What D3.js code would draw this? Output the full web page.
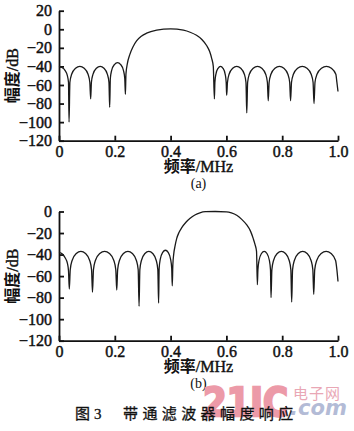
<!DOCTYPE html>
<html>
<head>
<meta charset="utf-8">
<script src="https://cdn.jsdelivr.net/npm/d3@7"></script>
<style>
body { margin: 0; background: #fff; }
</style>
</head>
<body>
<div id="grafico"></div>
<script>
//Ticks dos eixos
const xTicks = [0, 0.2, 0.4, 0.6, 0.8, 1.0];
const xTickLabels = ["0", "0.2", "0.4", "0.6", "0.8", "1.0"];
const yTicksA = [20, 0, -20, -40, -60, -80, -100, -120];
const yTicksB = [0, -20, -40, -60, -80, -100, -120];

//Resposta (a): frequencia em MHz e amplitude em dB
const freqA = [
  0, 0.012, 0.022, 0.030, 0.034, 0.036,
  0.0391, 0.0453, 0.0593, 0.0748, 0.0903, 0.1042, 0.1104, 0.1135,
  0.1162, 0.1217, 0.134, 0.1476, 0.1612, 0.1735, 0.179, 0.1817,
  0.184, 0.1885, 0.1986, 0.2099, 0.2211, 0.2312, 0.2357, 0.238,
  0.240, 0.245, 0.254, 0.265, 0.278, 0.295, 0.314, 0.35, 0.40, 0.446, 0.47, 0.493, 0.512, 0.529, 0.540, 0.547, 0.553, 0.557,
  0.5588, 0.5623, 0.5702, 0.579, 0.5878, 0.5957, 0.5992, 0.601,
  0.6039, 0.6096, 0.6226, 0.637, 0.6514, 0.6644, 0.6701, 0.673,
  0.6761, 0.6822, 0.6961, 0.7115, 0.7269, 0.7408, 0.7469, 0.75,
  0.7532, 0.7596, 0.774, 0.79, 0.806, 0.8204, 0.8268, 0.83,
  0.8334, 0.8401, 0.8552, 0.872, 0.8888, 0.9039, 0.9106, 0.914,
  0.9176, 0.9247, 0.9407, 0.9585, 0.9763, 0.9923, 0.996, 1.0
];
const magA = [
  -40, -41.5, -44.5, -50, -57, -100,
  -57, -48.5, -42, -40, -42, -48.5, -57, -75,
  -57, -48.5, -42, -40, -42, -48.5, -57, -84,
  -53, -44.5, -38, -36, -38, -44.5, -53, -70,
  -48, -37, -27, -19, -12.5, -7.5, -4.2, -1, 0.5, -1, -3.2, -6.5, -11, -17.5, -24, -31, -40, -75,
  -57, -48.5, -42, -40, -42, -48.5, -57, -71,
  -57, -48.5, -42, -40, -42, -48.5, -57, -90,
  -57, -48.5, -42, -40, -42, -48.5, -57, -77,
  -57, -48.5, -42, -40, -42, -48.5, -57, -77,
  -57, -48.5, -42, -40, -42, -48.5, -57, -80,
  -57, -48.5, -42, -40, -42, -48.5, -57, -67
];

//Resposta (b)
const freqB = [
  0, 0.012, 0.022, 0.030, 0.034, 0.037,
  0.0403, 0.047, 0.0619, 0.0785, 0.0951, 0.110, 0.1167, 0.12,
  0.1235, 0.1304, 0.1461, 0.1635, 0.1809, 0.1966, 0.2035, 0.207,
  0.2102, 0.2166, 0.231, 0.247, 0.263, 0.2774, 0.2838, 0.287,
  0.2898, 0.2954, 0.308, 0.322, 0.336, 0.3486, 0.3542, 0.357,
  0.359, 0.3629, 0.3717, 0.3815, 0.3913, 0.4001, 0.404, 0.406,
  0.408, 0.411, 0.416, 0.422, 0.43, 0.44, 0.455, 0.47, 0.487, 0.505, 0.525, 0.56, 0.6, 0.618, 0.637, 0.655, 0.673, 0.686, 0.696, 0.703, 0.708, 0.711,
  0.713, 0.7169, 0.7257, 0.7355, 0.7453, 0.7541, 0.758, 0.76,
  0.763, 0.7689, 0.7822, 0.797, 0.8118, 0.8251, 0.831, 0.834,
  0.8372, 0.8435, 0.8577, 0.8735, 0.8893, 0.9035, 0.9098, 0.913,
  0.9166, 0.9237, 0.9397, 0.9575, 0.9753, 0.9913, 0.996, 1.0
];
const magB = [
  -38, -39.5, -43, -48, -55, -72,
  -54, -45.5, -39, -37, -39, -45.5, -54, -75,
  -54, -45.5, -39, -37, -39, -45.5, -54, -73,
  -54, -45.5, -39, -37, -39, -45.5, -54, -88,
  -54, -45.5, -39, -37, -39, -45.5, -54, -85,
  -53, -44.5, -38, -36, -38, -44.5, -53, -69,
  -50, -40, -32, -25, -19.5, -15, -10, -6.3, -3.2, -1.2, -0.2, 0, -0.3, -1.3, -3.5, -7.3, -12.5, -18, -25, -31, -37, -68,
  -54, -45.5, -39, -37, -39, -45.5, -54, -80,
  -54, -45.5, -39, -37, -39, -45.5, -54, -84,
  -54, -45.5, -39, -37, -39, -45.5, -54, -77,
  -54, -45.5, -39, -37, -39, -45.5, -54, -65
];

const width  = 354;
const height = 431;
const serif = "'Liberation Serif', 'DejaVu Serif', serif";
const cjk = "'Noto Sans CJK SC', sans-serif";

//Desenha o svg dentro do div com id grafico
const svg = d3.select("#grafico")
              .append("svg")
              .attr("width", width)
              .attr("height", height);

svg.append("rect")
   .attr("width", width)
   .attr("height", height)
   .attr("fill", "#fff");

//Escala do eixo x (igual nos dois graficos)
const x = d3.scaleLinear()
            .domain([0, 1])
            .range([59, 338]);

function desenhaPainel(freq, mag, yTicks, yTop, yBottom, letra) {
    const y = d3.scaleLinear()
                .domain([-120, yTicks[0]])
                .range([yBottom, yTop]);

    //Eixo x
    const gx = svg.append("g")
       .attr("transform", `translate(0, ${yBottom})`)
       .call(d3.axisBottom(x)
               .tickValues(xTicks)
               .tickFormat((d, i) => xTickLabels[i])
               .tickSizeInner(-5)
               .tickSizeOuter(0)
               .tickPadding(5));

    //Eixo y
    const gy = svg.append("g")
       .attr("transform", `translate(${x(0)}, 0)`)
       .call(d3.axisLeft(y)
               .tickValues(yTicks)
               .tickFormat(d3.format("d"))
               .tickSizeInner(-5)
               .tickSizeOuter(0)
               .tickPadding(7));

    [gx, gy].forEach(g => {
        g.selectAll("path, line")
         .attr("stroke", "#111")
         .attr("stroke-width", 1.8);
        g.selectAll("text")
         .attr("font-family", serif)
         .attr("font-size", "16px")
         .attr("fill", "#111")
         .attr("stroke", "#111")
         .attr("stroke-width", 0.45);
    });

    //Curva de resposta
    const line = d3.line()
                   .x(d => x(d[0]))
                   .y(d => y(d[1]))
                   .curve(d3.curveMonotoneX);

    svg.append("path")
       .datum(d3.zip(freq, mag))
       .attr("d", line)
       .attr("fill", "none")
       .attr("stroke", "#1a1a1a")
       .attr("stroke-width", 1.3);

    //Label do eixo y
    const ty = svg.append("text")
       .attr("transform", `translate(18, ${(yTop + yBottom) / 2}) rotate(-90)`)
       .attr("text-anchor", "middle")
       .attr("font-size", "16px")
       .attr("fill", "#111");
    ty.append("tspan").attr("font-family", cjk).attr("font-weight", "bold").text("幅度");
    ty.append("tspan").attr("font-family", serif).attr("stroke", "#111").attr("stroke-width", 0.4).text("/dB");

    //Label do eixo x
    const tx = svg.append("text")
       .attr("x", (x(0) + x(1)) / 2)
       .attr("y", yBottom + 31)
       .attr("text-anchor", "middle")
       .attr("font-size", "16px")
       .attr("fill", "#111");
    tx.append("tspan").attr("font-family", cjk).attr("font-weight", "bold").text("频率");
    tx.append("tspan").attr("font-family", serif).attr("stroke", "#111").attr("stroke-width", 0.4).text("/MHz");

    svg.append("text")
       .attr("x", (x(0) + x(1)) / 2)
       .attr("y", yBottom + 47)
       .attr("text-anchor", "middle")
       .attr("font-family", serif)
       .attr("font-size", "14px")
       .attr("fill", "#111")
       .text(`(${letra})`);
}

desenhaPainel(freqA, magA, yTicksA, 10.7, 140.7, "a");
desenhaPainel(freqB, magB, yTicksB, 211.5, 340.7, "b");

//Marca d'agua
svg.append("text")
   .attr("x", 203)
   .attr("y", 416)
   .attr("font-family", "'DejaVu Sans', sans-serif")
   .attr("font-weight", "bold")
   .attr("font-size", "39px")
   .attr("textLength", 85)
   .attr("lengthAdjust", "spacingAndGlyphs")
   .attr("fill", "#ec9aa8")
   .attr("stroke", "#ec9aa8")
   .attr("stroke-width", 2.5)
   .text("21IC");

svg.append("text")
   .attr("x", 293)
   .attr("y", 399)
   .attr("font-family", cjk)
   .attr("font-size", "15px")
   .attr("letter-spacing", "1px")
   .attr("fill", "#e9a7b5")
   .text("电子网");

svg.append("text")
   .attr("x", 290)
   .attr("y", 415)
   .attr("font-family", "'DejaVu Sans', sans-serif")
   .attr("font-weight", "bold")
   .attr("font-style", "italic")
   .attr("font-size", "22px")
   .attr("textLength", 57)
   .attr("lengthAdjust", "spacingAndGlyphs")
   .attr("fill", "#b3bbd6")
   .text(".com");

//Legenda da figura
const cap = svg.append("text")
   .attr("x", 75)
   .attr("y", 419)
   .attr("font-size", "15px")
   .attr("fill", "#111")
   .attr("stroke", "#111")
   .attr("stroke-width", 0.3);
cap.append("tspan").attr("font-family", cjk).text("图");
cap.append("tspan").attr("font-family", serif).attr("dx", 4).text("3");

svg.append("text")
   .attr("x", 123)
   .attr("y", 419)
   .attr("font-family", cjk)
   .attr("font-size", "15px")
   .attr("letter-spacing", "4.4px")
   .attr("fill", "#111")
   .attr("stroke", "#111")
   .attr("stroke-width", 0.3)
   .text("带通滤波器幅度响应");
</script>
</body>
</html>
